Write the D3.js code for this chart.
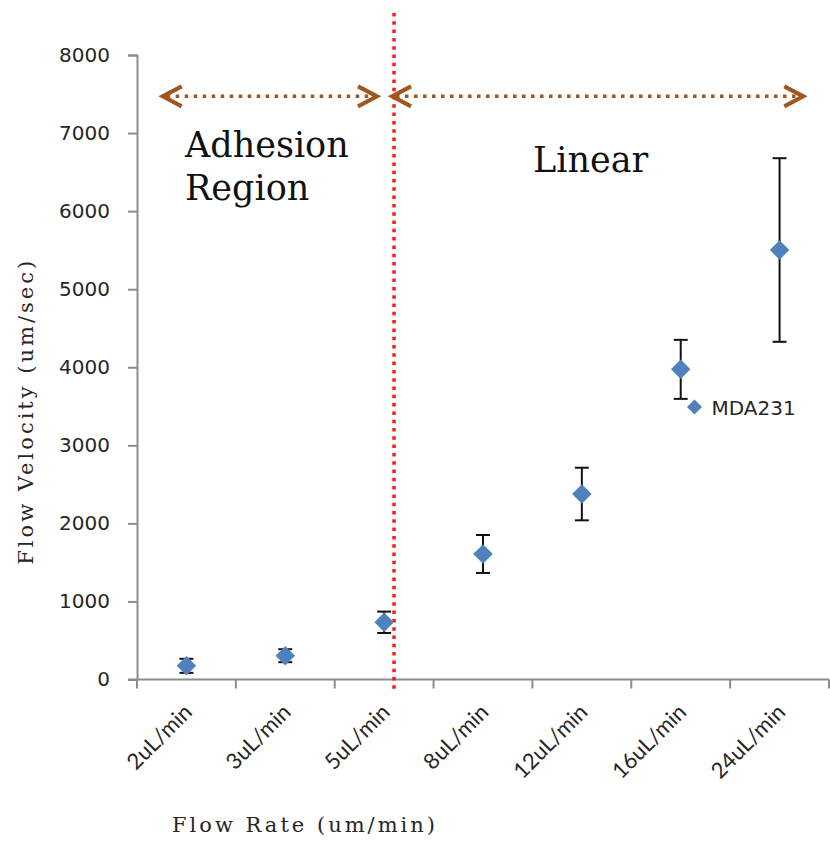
<!DOCTYPE html>
<html>
<head>
    <title>Flow Velocity vs Flow Rate</title>
    <script src="https://d3js.org/d3.v7.min.js"></script>
    <style>
        body { margin: 0; background: #fff; }
    </style>
</head>
<body>
    <div id="chart"></div>

    <script>
        // data
        var categories = ["2uL/min", "3uL/min", "5uL/min", "8uL/min", "12uL/min", "16uL/min", "24uL/min"];
        var velocity = [175, 305, 733, 1608, 2376, 3973, 5502];
        var errors = [90, 83, 137, 243, 337, 378, 1176];
        var yTicks = [0, 1000, 2000, 3000, 4000, 5000, 6000, 7000, 8000];
        var seriesName = "MDA231";

        var width = 830, height = 842;
        var plotLeft = 137, plotRight = 829, plotTop = 55, plotBottom = 679.5;

        var svg = d3.select("#chart")
            .append("svg")
            .attr("width", width)
            .attr("height", height);

        var x = d3.scaleBand()
            .domain(categories)
            .range([plotLeft, plotRight])
            .padding(0);

        var y = d3.scaleLinear()
            .domain([0, 8000])
            .range([plotBottom, plotTop]);

        var bw = x.bandwidth();
        var axisColor = "#8c8c8c";

        // y axis
        var yAxis = svg.append("g")
            .attr("transform", "translate(" + plotLeft + ",0)")
            .call(d3.axisLeft(y).tickValues(yTicks).tickSize(9).tickPadding(18).tickFormat(d3.format("d")));
        yAxis.select(".domain").attr("stroke", axisColor).attr("stroke-width", 2);
        yAxis.selectAll(".tick line").attr("stroke", axisColor).attr("stroke-width", 2);
        yAxis.selectAll(".tick text")
            .attr("fill", "#262626")
            .style("font-family", "DejaVu Sans, sans-serif")
            .style("font-size", "20px");

        // x axis: ticks at the band edges
        var edges = categories.map(function(c) { return x(c); }).concat([plotRight]);
        svg.append("line")
            .attr("x1", plotLeft - 9).attr("x2", plotRight)
            .attr("y1", plotBottom).attr("y2", plotBottom)
            .attr("stroke", axisColor).attr("stroke-width", 2);
        svg.selectAll(".xtick")
            .data(edges)
            .enter()
            .append("line")
            .attr("class", "xtick")
            .attr("x1", function(d) { return d; }).attr("x2", function(d) { return d; })
            .attr("y1", plotBottom).attr("y2", plotBottom + 9)
            .attr("stroke", axisColor).attr("stroke-width", 2);

        svg.selectAll(".xlabel")
            .data(categories)
            .enter()
            .append("text")
            .attr("class", "xlabel")
            .attr("transform", function(d) {
                return "translate(" + (x(d) + bw / 2 + 7) + "," + (plotBottom + 34) + ") rotate(-45)";
            })
            .attr("text-anchor", "end")
            .attr("fill", "#262626")
            .style("font-family", "Lato, sans-serif")
            .style("font-size", "22px")
            .text(function(d) { return d; });

        // axis titles
        svg.append("text")
            .attr("transform", "translate(33," + ((plotTop + plotBottom) / 2 + 44) + ") rotate(-90)")
            .attr("text-anchor", "middle")
            .attr("fill", "#262626")
            .style("font-family", "DejaVu Serif, serif")
            .style("font-size", "21px")
            .style("letter-spacing", "3px")
            .text("Flow Velocity (um/sec)");

        svg.append("text")
            .attr("x", 172)
            .attr("y", 832)
            .attr("fill", "#262626")
            .style("font-family", "DejaVu Serif, serif")
            .style("font-size", "21px")
            .style("letter-spacing", "3px")
            .text("Flow Rate (um/min)");

        // region separator
        var sepX = x("5uL/min") + bw * 0.6;
        svg.append("line")
            .attr("x1", sepX).attr("x2", sepX)
            .attr("y1", 13).attr("y2", plotBottom + 11)
            .attr("stroke", "#ff1a1a")
            .attr("stroke-width", 3.5)
            .attr("stroke-dasharray", "3.5,4.8");

        // double arrows
        var brown = "#a0561e";
        var arrowY = y(7470);
        var arrows = [
            { x1: x(categories[0]) + bw * 0.26, x2: sepX - 17 },
            { x1: sepX - 2, x2: x(categories[6]) + bw * 0.74 }
        ];
        arrows.forEach(function(a) {
            svg.append("line")
                .attr("x1", a.x1 + 4).attr("x2", a.x2 - 4)
                .attr("y1", arrowY).attr("y2", arrowY)
                .attr("stroke", brown)
                .attr("stroke-width", 3.5)
                .attr("stroke-dasharray", "3.5,5.5");
            svg.append("path")
                .attr("d", "M" + (a.x1 + 19) + "," + (arrowY - 10) + "L" + a.x1 + "," + arrowY + "L" + (a.x1 + 19) + "," + (arrowY + 10))
                .attr("fill", "none").attr("stroke", brown).attr("stroke-width", 4);
            svg.append("path")
                .attr("d", "M" + (a.x2 - 19) + "," + (arrowY - 10) + "L" + a.x2 + "," + arrowY + "L" + (a.x2 - 19) + "," + (arrowY + 10))
                .attr("fill", "none").attr("stroke", brown).attr("stroke-width", 4);
        });

        // region labels
        var regionFont = "DejaVu Serif, serif";
        svg.append("text").attr("x", 185).attr("y", 157)
            .style("font-family", regionFont).style("font-size", "35px").attr("fill", "#111")
            .text("Adhesion");
        svg.append("text").attr("x", 185).attr("y", 200)
            .style("font-family", regionFont).style("font-size", "35px").attr("fill", "#111")
            .text("Region");
        svg.append("text").attr("x", 533).attr("y", 172)
            .style("font-family", regionFont).style("font-size", "35px").attr("fill", "#111")
            .text("Linear");

        // error bars
        var pts = categories.map(function(c, i) {
            return { cat: c, v: velocity[i], e: errors[i] };
        });
        var cap = 7;
        var eb = svg.selectAll(".err")
            .data(pts)
            .enter()
            .append("g")
            .attr("class", "err")
            .attr("stroke", "#111")
            .attr("stroke-width", 2);
        eb.append("line")
            .attr("x1", function(d) { return x(d.cat) + bw / 2; })
            .attr("x2", function(d) { return x(d.cat) + bw / 2; })
            .attr("y1", function(d) { return y(d.v + d.e); })
            .attr("y2", function(d) { return y(d.v - d.e); });
        eb.append("line")
            .attr("x1", function(d) { return x(d.cat) + bw / 2 - cap; })
            .attr("x2", function(d) { return x(d.cat) + bw / 2 + cap; })
            .attr("y1", function(d) { return y(d.v + d.e); })
            .attr("y2", function(d) { return y(d.v + d.e); });
        eb.append("line")
            .attr("x1", function(d) { return x(d.cat) + bw / 2 - cap; })
            .attr("x2", function(d) { return x(d.cat) + bw / 2 + cap; })
            .attr("y1", function(d) { return y(d.v - d.e); })
            .attr("y2", function(d) { return y(d.v - d.e); });

        // diamond markers
        var blue = "#4f81bd";
        var diamond = d3.symbol().type(d3.symbolDiamond2).size(242);
        svg.selectAll(".pt")
            .data(pts)
            .enter()
            .append("path")
            .attr("class", "pt")
            .attr("d", diamond)
            .attr("transform", function(d) { return "translate(" + (x(d.cat) + bw / 2) + "," + y(d.v) + ")"; })
            .attr("fill", blue);

        // legend
        var legend = svg.append("g").attr("transform", "translate(694.5,407)");
        legend.append("path")
            .attr("d", d3.symbol().type(d3.symbolDiamond2).size(145))
            .attr("fill", blue);
        legend.append("text")
            .attr("x", 17)
            .attr("y", 7.5)
            .attr("fill", "#262626")
            .style("font-family", "DejaVu Sans, sans-serif")
            .style("font-size", "20px")
            .text(seriesName);
    </script>
</body>
</html>
